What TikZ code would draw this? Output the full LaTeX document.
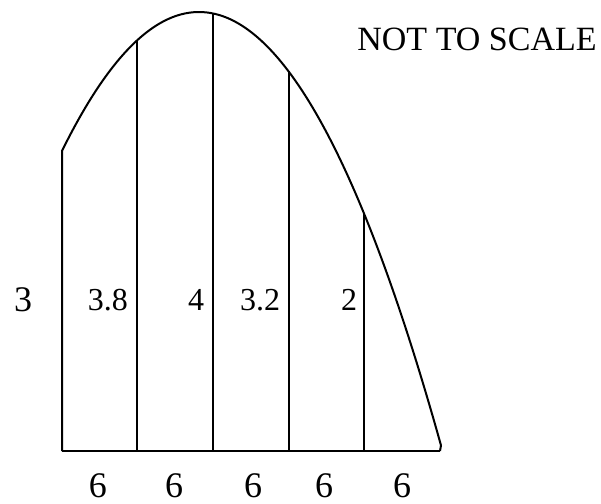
\documentclass[tikz,border=0pt]{standalone}
\usepackage{fontspec}
\setmainfont{Liberation Serif}
\begin{document}
\begin{tikzpicture}[x=0.5pt,y=-0.5pt,
  shape line/.style={line width=1pt},
  lbl/.style={inner sep=0pt,font=\fontsize{16}{18}\selectfont},
  biglbl/.style={inner sep=0pt,font=\fontsize{18}{20}\selectfont},
  notelbl/.style={inner sep=0pt,font=\fontsize{17}{19}\selectfont}]
\useasboundingbox (0,0) rectangle (601,504);
\coordinate (b0) at (62,451);
\coordinate (b1) at (137,451);
\coordinate (b2) at (212.5,451);
\coordinate (b3) at (288.5,451);
\coordinate (b4) at (364,451);
\coordinate (b5) at (440,451);
\coordinate (t0) at (62,{12+0.0074*(62-199)*(62-199)});
\coordinate (t1) at (137,{12+0.0074*(137-199)*(137-199)});
\coordinate (t2) at (212.5,{12+0.0074*(212.5-199)*(212.5-199)});
\coordinate (t3) at (288.5,{12+0.0074*(288.5-199)*(288.5-199)});
\coordinate (t4) at (364,{12+0.0074*(364-199)*(364-199)});
\draw[shape line] (b0) -- (b5);
\draw[shape line,line join=round] (b0) -- (t0) -- plot[domain=62:441,samples=90,smooth] (\x,{12+0.0074*(\x-199)*(\x-199)}) -- (b5);
\foreach \i in {1,...,4} \draw[shape line] (b\i) -- (t\i);
\node[biglbl] (n3) at (23,300) {3};
\node[lbl] (n38) at (108,300) {3.8};
\node[lbl] (n4) at (196,300) {4};
\node[lbl] (n32) at (260,300) {3.2};
\node[lbl] (n2) at (349,300) {2};
\foreach \x/\n in {98/a,174/b,253/c,324/d,402/e} \node[biglbl] (w\n) at (\x,486) {6};
\node[notelbl,anchor=west] (nts) at (357,39) {NOT TO SCALE};
\end{tikzpicture}
\end{document}
